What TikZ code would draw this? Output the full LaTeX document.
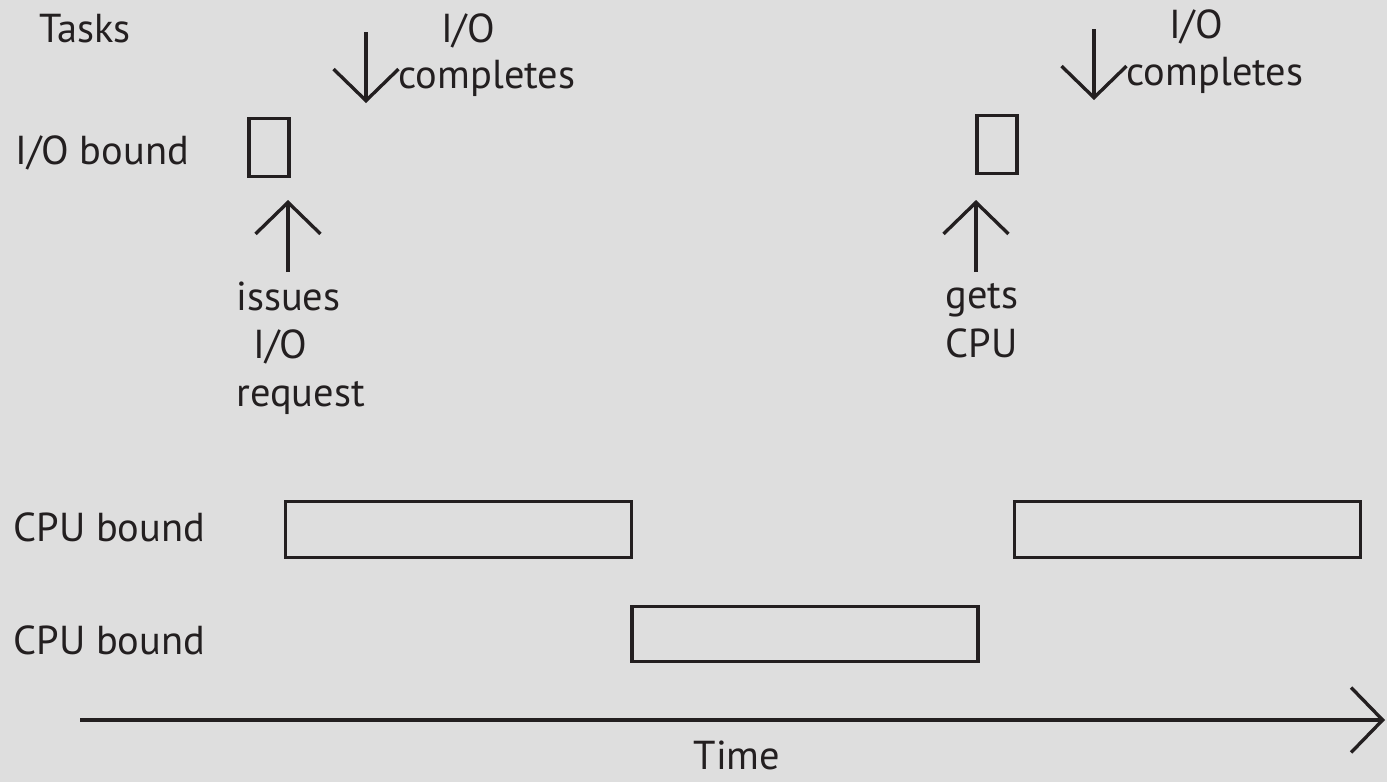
\documentclass[tikz,border=0pt]{standalone}
\usepackage{fontspec}
\setmainfont{PT Sans}
\usepackage{xcolor}
\usepackage{tikz}
\usetikzlibrary{arrows.meta, positioning}

\definecolor{bggray}{RGB}{222,222,222}
\definecolor{inkblack}{RGB}{35,31,32}

\begin{document}
\begin{tikzpicture}[
    x=0.02cm, y=-0.02cm,
    label/.style={inner sep=0pt, anchor=base west, text=inkblack, font=\fontsize{23}{27}\selectfont},
    slot/.style={draw=inkblack, line width=1.9pt, inner sep=0pt},
    ioslot/.style={slot, minimum width=0.8cm, minimum height=1.16cm},
    cpuslot/.style={slot, minimum width=6.92cm, minimum height=1.11cm},
    arrow/.style={-{Straight Barb[length=18pt, width=37pt, line width=1.9pt]}, line width=1.9pt, draw=inkblack}
]

    \fill[bggray] (0,0) rectangle (1387,782);
    \useasboundingbox (0,0) rectangle (1387,782);

    % Row labels.
    \node[label] (tasks) at (39, 42) {Tasks};
    \node[label] (iorow) at (15, 164) {I/O bound};
    \node[label] (cpurowa) at (13, 541) {CPU bound};
    \node[label] (cpurowb) at (13, 654) {CPU bound};

    % I/O bound task bursts.
    \node[ioslot] (iofirst) at (269, 147.5) {};
    \node[ioslot] (iosecond) at (997, 144.5) {};

    % CPU bound task bursts.
    \node[cpuslot] (cpufirst) at (458.5, 529.5) {};
    \node[cpuslot] (cpusecond) at (805, 634) {};
    \node[cpuslot] (cputhird) at (1187.5, 529.5) {};

    % Events.
    \coordinate (issuebase) at (288, 272);
    \coordinate (issuetip) at (288, 200);
    \coordinate (getsbase) at (976, 272);
    \coordinate (getstip) at (976, 200);
    \coordinate (donetopa) at (366, 32);
    \coordinate (donetipa) at (366, 103);
    \coordinate (donetopb) at (1094, 29);
    \coordinate (donetipb) at (1094, 100);

    \draw[arrow] (issuebase) -- (issuetip);
    \draw[arrow] (getsbase) -- (getstip);
    \draw[arrow] (donetopa) -- (donetipa);
    \draw[arrow] (donetopb) -- (donetipb);

    \node[label, anchor=base] (ioa) at (468, 42) {I/O};
    \node[label, anchor=base] (completesa) at (487, 88) {completes};
    \node[label, anchor=base] (iob) at (1196, 38) {I/O};
    \node[label, anchor=base] (completesb) at (1215, 85) {completes};

    \node[label] (issues) at (236, 310) {issues};
    \node[label] (issuesio) at (253, 358) {I/O};
    \node[label] (request) at (236, 406) {request};
    \node[label] (gets) at (945, 308) {gets};
    \node[label] (getscpu) at (945, 357) {CPU};

    % Time axis.
    \coordinate (timestart) at (80, 720);
    \coordinate (timeend) at (1385, 720);
    \draw[arrow] (timestart) -- (timeend);
    \node[label, anchor=base] (time) at (737, 769) {Time};

\end{tikzpicture}
\end{document}
